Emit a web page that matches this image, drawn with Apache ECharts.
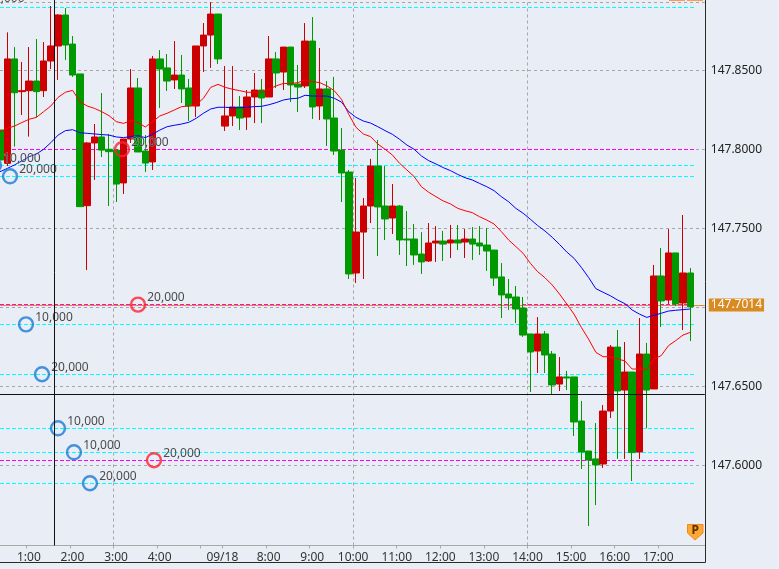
<!DOCTYPE html>
<html>
<head>
<meta charset="utf-8">
<style>
html, body { margin: 0; padding: 0; background: #E9EDF5; }
#chart { width: 779px; height: 569px; }
</style>
<script src="https://cdn.jsdelivr.net/npm/echarts@6/dist/echarts.min.js"></script>
</head>
<body>
<div id="chart"></div>
<script>
// 10 minute candles. array index = slot on the time axis
var opens = [147.8122,147.7911,147.8572,147.8365,147.8371,147.8432,147.8371,147.8559,147.8654,147.8850,
  147.8666,147.8477,147.7643,147.8040,147.8078,147.8000,147.7995,147.7787,147.8065,147.8388,
  147.7989,147.7920,147.8572,147.8515,147.8439,147.8470,147.8388,147.8274,147.8654,147.8723,
  147.8856,147.8147,147.8211,147.8268,147.8204,147.8331,147.8375,147.8331,147.8572,147.8489,
  147.8647,147.8413,147.8401,147.8685,147.8274,147.8382,147.8198,147.7995,147.7856,147.7217,
  147.7476,147.7641,147.7894,147.7641,147.7565,147.7641,147.7432,147.7432,147.7337,147.7293,
  147.7407,147.7419,147.7407,147.7426,147.7413,147.7432,147.7407,147.7394,147.7362,147.7192,
  147.7084,147.7065,147.6995,147.6831,147.6723,147.6831,147.6704,147.6514,147.6559,147.6559,
  147.6280,147.6090,147.6040,147.6008,147.6343,147.6748,147.6476,147.6590,147.6084,147.6704,
  147.6483,147.7198,147.7046,147.7344,147.7027,147.7217];
var closes = [147.7932,147.8572,147.8358,147.8371,147.8432,147.8365,147.8559,147.8654,147.8850,147.8660,
  147.8470,147.7637,147.8040,147.8078,147.7995,147.7985,147.7780,147.8065,147.8388,147.7983,
  147.7913,147.8572,147.8508,147.8432,147.8470,147.8382,147.8274,147.8654,147.8723,147.8856,
  147.8572,147.8211,147.8268,147.8198,147.8331,147.8375,147.8325,147.8572,147.8483,147.8647,
  147.8407,147.8394,147.8685,147.8268,147.8382,147.8192,147.7989,147.7850,147.7211,147.7476,
  147.7641,147.7894,147.7635,147.7559,147.7641,147.7426,147.7426,147.7331,147.7287,147.7407,
  147.7419,147.7400,147.7426,147.7407,147.7432,147.7400,147.7388,147.7356,147.7185,147.7078,
  147.7059,147.6989,147.6824,147.6717,147.6831,147.6698,147.6508,147.6559,147.6552,147.6274,
  147.6084,147.6033,147.6002,147.6343,147.6748,147.6470,147.6590,147.6080,147.6704,147.6476,
  147.7198,147.7040,147.7344,147.7021,147.7217,147.7002];
var lows = [147.7890,147.7894,147.8017,147.8217,147.8080,147.8202,147.8331,147.8508,147.8439,147.8565,
  147.8458,147.7637,147.7236,147.7806,147.7951,147.7641,147.7666,147.7717,147.8040,147.7983,
  147.7856,147.7869,147.8261,147.8369,147.8382,147.8293,147.8179,147.8204,147.8489,147.8515,
  147.8540,147.8116,147.8147,147.8122,147.8122,147.8166,147.8166,147.8331,147.8388,147.8375,
  147.8299,147.8236,147.8388,147.8192,147.8185,147.8021,147.7964,147.7666,147.7179,147.7154,
  147.7179,147.7533,147.7325,147.7426,147.7464,147.7331,147.7261,147.7268,147.7211,147.7287,
  147.7287,147.7293,147.7312,147.7362,147.7312,147.7299,147.7331,147.7230,147.7135,147.6932,
  147.6983,147.6900,147.6812,147.6464,147.6584,147.6584,147.6451,147.6470,147.6476,147.6185,
  147.5976,147.5615,147.5748,147.5983,147.6299,147.6040,147.6040,147.5900,147.6040,147.6234,
  147.6483,147.6875,147.7021,147.7008,147.6856,147.6786];
var highs = [147.8523,147.8740,147.8647,147.8553,147.8647,147.8698,147.8679,147.8907,147.8856,147.8894,
  147.8717,147.8477,147.8046,147.8160,147.8356,147.8097,147.7995,147.8065,147.8508,147.8451,
  147.8090,147.8591,147.8628,147.8603,147.8685,147.8597,147.8445,147.8654,147.8799,147.8932,
  147.8856,147.8527,147.8527,147.8337,147.8375,147.8483,147.8445,147.8717,147.8616,147.8647,
  147.8647,147.8534,147.8799,147.8837,147.8641,147.8432,147.8458,147.8135,147.7869,147.7818,
  147.7692,147.7939,147.8059,147.7894,147.7780,147.7647,147.7609,147.7527,147.7476,147.7533,
  147.7514,147.7483,147.7521,147.7521,147.7495,147.7508,147.7514,147.7502,147.7362,147.7280,
  147.7179,147.7135,147.7065,147.6831,147.6938,147.6850,147.6723,147.6685,147.6597,147.6559,
  147.6407,147.6090,147.6267,147.6381,147.6761,147.6856,147.6780,147.6590,147.6932,147.6774,
  147.7268,147.7375,147.7495,147.7344,147.7584,147.7249];
var maRed = [147.8112,147.8133,147.8147,147.8169,147.8190,147.8202,147.8238,147.8274,147.8329,147.8361,
  147.8373,147.8301,147.8274,147.8259,147.8238,147.8213,147.8175,147.8164,147.8181,147.8169,
  147.8141,147.8175,147.8211,147.8228,147.8249,147.8270,147.8274,147.8282,147.8323,147.8392,
  147.8411,147.8392,147.8380,147.8371,147.8361,147.8361,147.8363,147.8380,147.8401,147.8417,
  147.8415,147.8422,147.8439,147.8428,147.8422,147.8401,147.8371,147.8316,147.8221,147.8139,
  147.8097,147.8080,147.8033,147.8000,147.7964,147.7911,147.7869,147.7827,147.7763,147.7728,
  147.7700,147.7673,147.7654,147.7626,147.7611,147.7599,147.7573,147.7552,147.7527,147.7479,
  147.7426,147.7384,147.7341,147.7278,147.7225,147.7187,147.7141,147.7084,147.7021,147.6957,
  147.6873,147.6799,147.6715,147.6687,147.6687,147.6673,147.6660,147.6609,147.6609,147.6605,
  147.6673,147.6694,147.6757,147.6789,147.6824,147.6841];
var maBlue = [147.7858,147.7879,147.7901,147.7926,147.7953,147.7970,147.8000,147.8042,147.8090,147.8118,
  147.8124,147.8105,147.8101,147.8097,147.8093,147.8090,147.8078,147.8074,147.8080,147.8086,
  147.8074,147.8095,147.8122,147.8143,147.8152,147.8160,147.8171,147.8196,147.8228,147.8255,
  147.8266,147.8266,147.8263,147.8263,147.8266,147.8270,147.8272,147.8282,147.8295,147.8312,
  147.8320,147.8323,147.8342,147.8337,147.8337,147.8337,147.8323,147.8299,147.8238,147.8202,
  147.8179,147.8166,147.8143,147.8118,147.8095,147.8063,147.8027,147.8000,147.7958,147.7928,
  147.7907,147.7884,147.7865,147.7841,147.7820,147.7806,147.7784,147.7763,147.7738,147.7700,
  147.7668,147.7626,147.7595,147.7557,147.7517,147.7483,147.7443,147.7398,147.7350,147.7310,
  147.7253,147.7189,147.7118,147.7095,147.7073,147.7046,147.7023,147.6983,147.6957,147.6936,
  147.6949,147.6962,147.6976,147.6981,147.6985,147.6989];

// price levels
var cyanLevels = [147.8899,147.7899,147.7829,147.6892,147.6576,147.6234,147.6082,147.5886];
var magentaLevels = [147.8000,147.7017,147.6032];
var lastPrice = [147.7014];
var crossSlot = [7.47];
var crossPrice = [147.6449];

// order markers
var blueSlots = [-0.83,1.38,3.58,5.78,7.98,10.18,12.38];
var bluePrices = [147.7899,147.7829,147.6892,147.6576,147.6234,147.6082,147.5886];
var blueSizes = ['10,000','20,000','10,000','20,000','10,000','10,000','20,000'];
var redSlots = [16.79,18.99,21.19];
var redPrices = [147.8000,147.7017,147.6032];
var redSizes = ['20,000','20,000','20,000'];
// labels of markers above the top edge, only their feet show
var topSlots = [-1.79,11.42,23.66];
var topPrices = [147.8951,147.8977,147.8977];
var topSizes = ['10,000','20,000','10,000'];

// axes
var priceTicks = [147.60,147.65,147.70,147.75,147.80,147.85];
var hourTicks = [3.6,9.6,15.6,21.6,27.6,30.6,36.6,42.6,48.6,54.6,60.6,66.6,72.6,78.6,84.6,90.6];
var hourLabelSlots = [3.97,9.97,15.97,21.97,30.6,36.97,42.97,48.6,54.6,60.6,66.6,72.6,78.6,84.6,90.6];
var hourLabels = ['1:00','2:00','3:00','4:00','09/18','8:00','9:00','10:00','11:00','12:00','13:00','14:00','15:00','16:00','17:00'];
var gridSlots = [15.59,48.6,72.55];
var topGridPrice = [147.8929];
var levelEndSlot = 95.56;

var FONT = '"Noto Sans", sans-serif';

var candleData = opens.map(function (o, i) {
    return [i, o, closes[i], lows[i], highs[i]];
});
function indexed(list) {
    return list.map(function (v, i) { return [i, v]; });
}
function levelLines(list) {
    return list.map(function (v) {
        return [{coord: [0, v]}, {coord: [levelEndSlot, v]}];
    });
}
function markerSeries(name, color, slots, prices, sizes) {
    return {
        name: name,
        type: 'scatter',
        z: 6,
        clip: false,
        symbol: 'circle',
        symbolSize: 14,
        silent: true,
        itemStyle: {color: 'rgba(0,0,0,0)', borderColor: color, borderWidth: 2.4},
        label: {
            show: true,
            position: 'right',
            distance: 1,
            offset: [0, -7],
            color: '#222',
            textBorderColor: 'rgba(233,237,245,0.6)',
            textBorderWidth: 1,
            fontFamily: FONT,
            fontSize: 12,
            formatter: function (p) { return sizes[p.dataIndex]; }
        },
        data: slots.map(function (s, i) { return [s, prices[i]]; })
    };
}

var myChart = echarts.init(document.getElementById('chart'));
var option = {
    backgroundColor: '#E9EDF5',
    animation: false,
    grid: {left: 0, top: 0, width: 704.8, height: 545.5, containLabel: false},
    xAxis: {
        type: 'value',
        min: 0,
        max: 97,
        splitLine: {show: false},
        axisLine: {lineStyle: {color: '#A8A8A8', width: 1}},
        axisTick: {length: 3, inside: false, lineStyle: {color: '#A8A8A8'}, customValues: hourTicks},
        axisLabel: {
            customValues: hourLabelSlots,
            margin: 6,
            color: '#333',
            fontFamily: FONT,
            fontSize: 12,
            formatter: function (v) { return hourLabels[hourLabelSlots.indexOf(v)]; }
        }
    },
    yAxis: {
        type: 'value',
        position: 'right',
        min: 147.5492,
        max: 147.8945,
        axisLine: {show: false},
        axisTick: {show: false, customValues: priceTicks},
        splitLine: {lineStyle: {color: '#A6A6A6', type: [3, 3], width: 1}},
        axisLabel: {
            customValues: priceTicks,
            margin: 6,
            padding: [3, 0, 0, 0],
            color: '#222',
            fontFamily: FONT,
            fontSize: 12,
            formatter: function (v) { return v.toFixed(4); }
        }
    },
    series: [
        {
            // everything that sits behind the candles
            name: 'levels',
            type: 'line',
            z: 1,
            data: [],
            markLine: {
                silent: true,
                symbol: 'none',
                animation: false,
                precision: 4,
                z: 1,
                label: {show: false},
                data: gridSlots.map(function (s) {
                    return {xAxis: s, lineStyle: {color: '#A6A6A6', type: [3, 3], width: 1}};
                }).concat(topGridPrice.map(function (v) {
                    return {yAxis: v, lineStyle: {color: '#A6A6A6', type: [3, 3], width: 1}};
                })).concat(levelLines(cyanLevels).map(function (l) {
                    l[0].lineStyle = {color: '#00FFFF', type: [4, 2], width: 1};
                    return l;
                })).concat(levelLines(magentaLevels).map(function (l) {
                    l[0].lineStyle = {color: '#FF00FF', type: [4, 2], width: 1};
                    return l;
                }))
            }
        },
        {
            name: 'last',
            type: 'line',
            z: 2,
            data: [],
            markLine: {
                silent: true,
                symbol: 'none',
                animation: false,
                precision: 4,
                z: 2,
                lineStyle: {color: '#DE9030', type: 'solid', width: 1},
                label: {
                    position: 'end',
                    distance: 4,
                    formatter: function (p) { return Number(p.value).toFixed(4); },
                    color: '#fff',
                    backgroundColor: '#D98A20',
                    padding: [0, 2],
                    lineHeight: 13,
                    fontFamily: FONT,
                    fontSize: 12
                },
                data: lastPrice.map(function (v) { return {yAxis: v}; })
            }
        },
        {
            name: 'USDJPY',
            type: 'candlestick',
            z: 3,
            barWidth: 7,
            encode: {x: 0, y: [1, 2, 3, 4]},
            itemStyle: {
                color: '#CC0000',
                color0: '#009900',
                borderColor: '#CC0000',
                borderColor0: '#009900',
                borderWidth: 1
            },
            data: candleData
        },
        {
            name: 'ma blue',
            type: 'line',
            z: 4,
            symbol: 'none',
            lineStyle: {color: '#0000FF', width: 1},
            data: indexed(maBlue)
        },
        {
            name: 'ma red',
            type: 'line',
            z: 4,
            symbol: 'none',
            lineStyle: {color: '#FF0000', width: 1},
            data: indexed(maRed)
        },
        markerSeries('buy', '#1C7AD6', blueSlots, bluePrices, blueSizes),
        markerSeries('sell', '#FF2030', redSlots, redPrices, redSizes),
        {
            name: 'top labels',
            type: 'scatter',
            z: 6,
            clip: false,
            symbolSize: 0,
            silent: true,
            label: {
                show: true,
                position: 'right',
                distance: 0,
                color: '#333',
                fontFamily: FONT,
                fontSize: 12,
                formatter: function (p) { return topSizes[p.dataIndex]; }
            },
            data: topSlots.map(function (s, i) { return [s, topPrices[i]]; })
        },
        {
            name: 'crosshair',
            type: 'line',
            z: 7,
            data: [],
            markLine: {
                silent: true,
                symbol: 'none',
                animation: false,
                precision: 4,
                z: 7,
                label: {show: false},
                lineStyle: {color: '#111', type: 'solid', width: 1},
                data: [{xAxis: crossSlot[0]}, {yAxis: crossPrice[0]}]
            }
        }
    ],
    graphic: [
        // window frame, tabs cut by the top edge, and the P badge
        {type: 'line', z: 10, shape: {x1: 705.5, y1: 0, x2: 705.5, y2: 562.5}, style: {stroke: '#2A2A2A', lineWidth: 1}},
        {type: 'line', z: 10, shape: {x1: 0, y1: 562.5, x2: 705.5, y2: 562.5}, style: {stroke: '#2A2A2A', lineWidth: 1}},
        {type: 'rect', z: 10, shape: {x: 669, y: 0, width: 16, height: 1}, style: {fill: '#FF9A4A'}},
        {type: 'rect', z: 10, shape: {x: 687, y: 0, width: 16, height: 1}, style: {fill: '#FF9A4A'}},
        {
            type: 'polygon', z: 10,
            shape: {points: [[687.5, 524.5], [703, 524.5], [703, 533], [695, 540], [687.5, 533]]},
            style: {fill: '#FFA733', stroke: '#F08A1C', lineWidth: 1}
        },
        {
            type: 'text', z: 11, x: 695.2, y: 531,
            style: {text: 'P', fill: '#5A3000', font: 'bold 12px "Noto Sans", sans-serif', align: 'center', verticalAlign: 'middle'}
        }
    ]
};
myChart.setOption(option);
</script>
</body>
</html>
